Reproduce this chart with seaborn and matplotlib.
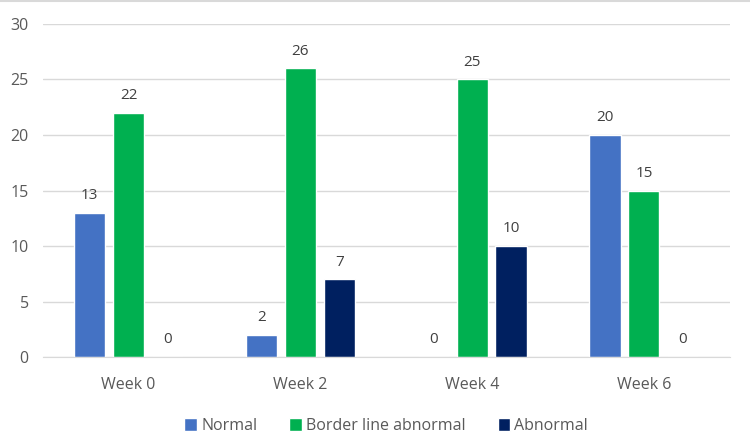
import matplotlib
matplotlib.use("Agg")
import matplotlib.pyplot as plt
import seaborn as sns
import pandas as pd
from matplotlib.lines import Line2D

## values
weeks = ["Week 0", "Week 2", "Week 4", "Week 6"]
normal = [13, 2, 0, 20]
borderline = [22, 26, 25, 15]
abnormal = [0, 7, 10, 0]
groups = ["Normal", "Border line abnormal", "Abnormal"]
colors = ["#4472C4", "#00B050", "#002060"]

rows = []
for g, vals in zip(groups, [normal, borderline, abnormal]):
    for w, v in zip(weeks, vals):
        rows.append({"week": w, "group": g, "count": v})
df = pd.DataFrame(rows)

sns.set_style("white")
plt.rcParams['font.family'] = ['Open Sans', 'DejaVu Sans']

fig = plt.figure(figsize=(7.5, 4.36), dpi=100)
ax = fig.add_axes([0.057, 0.181, 0.916, 0.764])

sns.barplot(data=df, x="week", y="count", hue="group", hue_order=groups,
            palette=colors, width=0.68, gap=0.2, saturation=1, ax=ax)

for c in ax.containers:
    ax.bar_label(c, padding=7, fontsize=11, color="#404040")

ax.set_ylim(0, 30)
ax.set_yticks(range(0, 31, 5))
ax.set_xlim(-0.5, 3.5)
ax.yaxis.grid(True, color="#d9d9d9", lw=1)
ax.set_axisbelow(True)
for s in ["top", "right", "left"]:
    ax.spines[s].set_visible(False)
ax.spines["bottom"].set_color("#d9d9d9")
ax.tick_params(axis="both", length=0, labelsize=11.5, colors="#595959", pad=10)
ax.tick_params(axis="x", pad=14)
ax.set_xlabel("")
ax.set_ylabel("")

ax.legend(loc="upper center", bbox_to_anchor=(0.5, -0.14), ncol=3, frameon=False,
          fontsize=11.5, handlelength=0.8, handleheight=0.8, handletextpad=0.25,
          columnspacing=2.0, labelcolor="#595959")

fig.add_artist(Line2D([0, 1], [0.997, 0.997], color="#d9d9d9", lw=1.5))

fig.savefig("out.png", dpi=100)
